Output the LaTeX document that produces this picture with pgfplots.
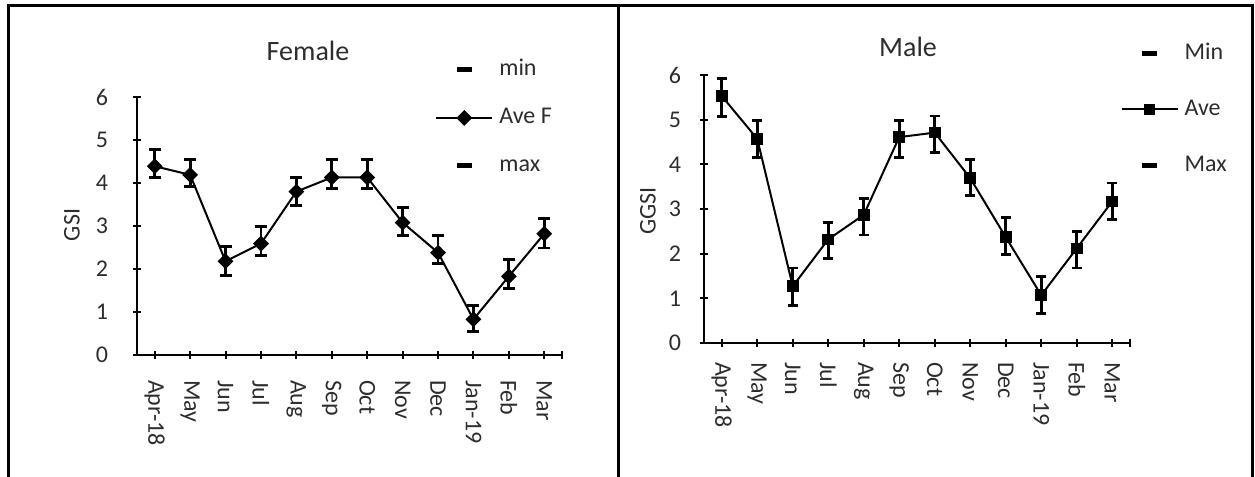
\documentclass[border=0pt]{standalone}
\usepackage{pgfplots}
\pgfplotsset{compat=1.18}
\usepackage{pgfplotstable}
\usepackage{fontspec}
\setmainfont{Carlito}
\definecolor{txt}{RGB}{45,45,45}

\pgfplotstableread{
x y ep em
0 4.39 0.39 0.27
1 4.19 0.35 0.27
2 2.18 0.34 0.33
3 2.59 0.39 0.28
4 3.80 0.33 0.33
5 4.13 0.41 0.26
6 4.13 0.41 0.26
7 3.08 0.35 0.31
8 2.38 0.40 0.26
9 0.83 0.32 0.28
10 1.83 0.39 0.29
11 2.82 0.35 0.33
}\femdata

\pgfplotstableread{
x y ep em
0 5.53 0.39 0.46
1 4.57 0.41 0.41
2 1.27 0.41 0.43
3 2.32 0.38 0.43
4 2.87 0.37 0.45
5 4.61 0.37 0.46
6 4.71 0.37 0.45
7 3.69 0.42 0.39
8 2.37 0.44 0.38
9 1.07 0.41 0.41
10 2.12 0.38 0.44
11 3.17 0.41 0.41
}\maledata

\pgfplotsset{
  gsi/.style={
    scale only axis, anchor=south west,
    xmin=-0.5, xmax=11.5, ymin=0, ymax=6,
    axis lines=left, axis line style={-, line width=1pt, black},
    every non boxed x axis/.append style={xtick align=inside},
    every non boxed y axis/.append style={ytick align=outside},
    xtick={0,...,11},
    xticklabels={Apr-18,May,Jun,Jul,Aug,Sep,Oct,Nov,Dec,Jan-19,Feb,Mar},
    extra x ticks={11.5}, extra x tick labels={},
    ytick={0,...,6},
    major tick length=4pt,
    tick style={line width=1pt, black},
    tick label style={font=\fontsize{12}{14}\selectfont, text=txt},
    xticklabel style={rotate=-90, anchor=west},
    /pgf/number format/assume math mode=true,
    clip=false,
    legend cell align=left,
    legend image code/.code={\draw[mark repeat=2,mark phase=2,##1] plot coordinates {(0pt,0pt) (14pt,0pt) (28pt,0pt)};},
    legend style={draw=none, fill=none, anchor=north west, inner sep=0pt,
      font=\fontsize{12}{14}\selectfont, text=txt,
      nodes={inner sep=0pt, text height=9pt, text depth=3pt},
      /tikz/every odd column/.append style={column sep=3pt}},
  },
  errs/.style={
    error bars/.cd, y dir=both, y explicit,
    error bar style={line width=1.4pt, black},
    error mark options={rotate=90, mark size=#1, line width=1.4pt, black},
  },
}

\begin{document}
\begin{tikzpicture}
\useasboundingbox (0,0) rectangle (627.5pt,238.5pt);
\draw[line width=1.5pt] (4pt,0) -- (4pt,235.5pt) -- (626pt,235.5pt) -- (626pt,0);
\draw[line width=1.5pt] (309pt,0) -- (309pt,235.5pt);

\begin{axis}[gsi, at={(68.5pt,61pt)}, width=212.5pt, height=129pt,
  xticklabel shift=7pt, yticklabel shift=9pt,
  legend style={at={(0.701,1.153)}, row sep=12pt}]
\addlegendimage{only marks, mark=-, mark size=3.7pt, line width=2.5pt, black}
\addlegendentry{min}
\addplot[black, line width=1pt, mark=square*, mark size=2.3pt, mark options={rotate=45, solid},
  errs=3pt] table[x=x, y=y, y error plus=ep, y error minus=em] {\femdata};
\addlegendentry{Ave F}
\addlegendimage{only marks, mark=-, mark size=3.7pt, line width=2.5pt, black}
\addlegendentry{max}
\end{axis}

\begin{axis}[gsi, at={(352pt,67pt)}, width=213pt, height=134pt,
  xticklabel shift=4pt, yticklabel shift=6pt,
  legend style={at={(0.977,1.127)}, row sep=16pt}]
\addlegendimage{only marks, mark=-, mark size=3.7pt, line width=2.5pt, black}
\addlegendentry{Min}
\addplot[black, line width=1pt, mark=square*, mark size=2.4pt, mark options={solid},
  errs=2.6pt] table[x=x, y=y, y error plus=ep, y error minus=em] {\maledata};
\addlegendentry{Ave}
\addlegendimage{only marks, mark=-, mark size=3.7pt, line width=2.5pt, black}
\addlegendentry{Max}
\end{axis}

\node[font=\fontsize{14}{16}\selectfont, text=txt] at (154pt,213pt) {Female};
\node[font=\fontsize{14}{16}\selectfont, text=txt] at (454pt,215pt) {Male};
\node[font=\fontsize{12}{14}\selectfont, text=txt, rotate=90] at (36pt,126pt) {GSI};
\node[font=\fontsize{12}{14}\selectfont, text=txt, rotate=90] at (324pt,133pt) {GGSI};
\end{tikzpicture}
\end{document}
